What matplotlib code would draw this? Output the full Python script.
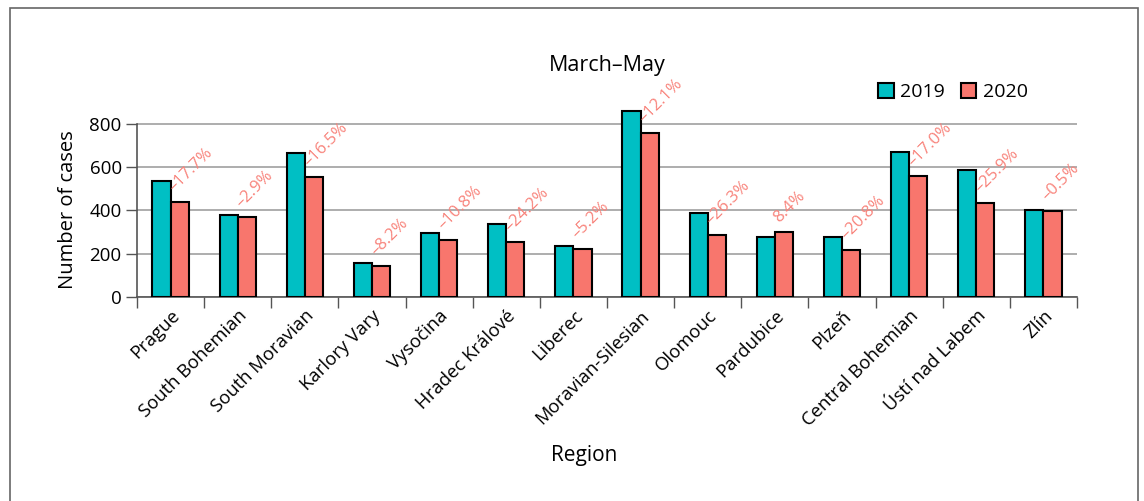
import numpy as np
import matplotlib
matplotlib.use("Agg")
import matplotlib.pyplot as plt
from matplotlib.patches import Rectangle

plt.rcParams['font.family'] = ['Open Sans', 'DejaVu Sans']

# data
regions = ['Prague', 'South Bohemian', 'South Moravian', 'Karlory Vary', 'Vysočina',
           'Hradec Králové', 'Liberec', 'Moravian-Silesian', 'Olomouc', 'Pardubice',
           'Plzeň', 'Central Bohemian', 'Ústí nad Labem', 'Zlín']
cases_2019 = [535, 378, 665, 158, 294, 337, 233, 860, 386, 275, 276, 670, 585, 400]
cases_2020 = [440, 367, 555, 145, 262, 255, 221, 756, 285, 298, 219, 556, 433, 398]
pct_labels = ['–17.7%', '–2.9%', '–16.5%', '–8.2%', '–10.8%', '–24.2%', '–5.2%',
              '–12.1%', '–26.3%', '8.4%', '–20.8%', '–17.0%', '–25.9%', '–0.5%']

c19 = '#00BFC4'
c20 = '#F8766D'
W, H = 1144, 501

fig = plt.figure(figsize=(W / 100, H / 100), dpi=100)
# outer frame
fig.patches.append(Rectangle((9.5 / W, -0.1), (1138 - 9.5) / W, 1.1 - 8.5 / H,
                             transform=fig.transFigure, fill=False,
                             edgecolor='#666666', linewidth=1.2))

ymax = 900
ax = fig.add_axes([137 / W, 1 - 297 / H, 940 / W, ymax * 0.21675 / H])
x = np.arange(len(regions))
bw = 0.27
ax.bar(x - bw / 2, cases_2019, bw, color=c19, edgecolor='black', linewidth=1.5,
       label='2019', zorder=3)
ax.bar(x + bw / 2, cases_2020, bw, color=c20, edgecolor='black', linewidth=1.5,
       label='2020', zorder=3)

for i in range(len(regions)):
    ax.annotate(pct_labels[i], (x[i], cases_2020[i]), xytext=(5, 5),
                textcoords='offset points', rotation=45, rotation_mode='anchor',
                ha='left', va='bottom', color='#F8837B', fontsize=12,
                annotation_clip=False, zorder=4)

ax.set_xlim(-0.5, len(regions) - 0.5)
ax.set_ylim(0, ymax)
ax.set_yticks([0, 200, 400, 600, 800])
ax.yaxis.grid(True, color='#A0A0A0', linewidth=1.2, zorder=0)
ax.set_axisbelow(True)
ax.tick_params(axis='y', length=8, width=1, color='#555555', labelsize=13.5, pad=3)

ax.set_xticks(x)
ax.set_xticklabels(regions, rotation=45, ha='right', rotation_mode='anchor', fontsize=13.3)
ax.set_xticks(np.arange(-0.5, len(regions), 1), minor=True)
ax.tick_params(axis='x', which='major', length=0, pad=7)
ax.tick_params(axis='x', which='minor', length=8, width=1, color='#555555')

for s in ['top', 'right']:
    ax.spines[s].set_visible(False)
for s in ['left', 'bottom']:
    ax.spines[s].set_color('#555555')
    ax.spines[s].set_linewidth(1.2)
ax.spines['left'].set_bounds(0, 800)

fig.text(607 / W, 1 - 65 / H, 'March–May', ha='center', va='center', fontsize=15.5)
fig.text(68 / W, 1 - 210 / H, 'Number of cases', rotation=90, ha='center',
         va='center', fontsize=14.5)
fig.text(584 / W, 1 - 456 / H, 'Region', ha='center', va='center', fontsize=15)

fig.legend(loc='center', bbox_to_anchor=(953 / W, 1 - 92 / H), ncol=2, frameon=False,
           fontsize=14, handlelength=0.8, handleheight=0.8, handletextpad=0.35,
           columnspacing=0.8)

fig.savefig('out.png', dpi=100)
